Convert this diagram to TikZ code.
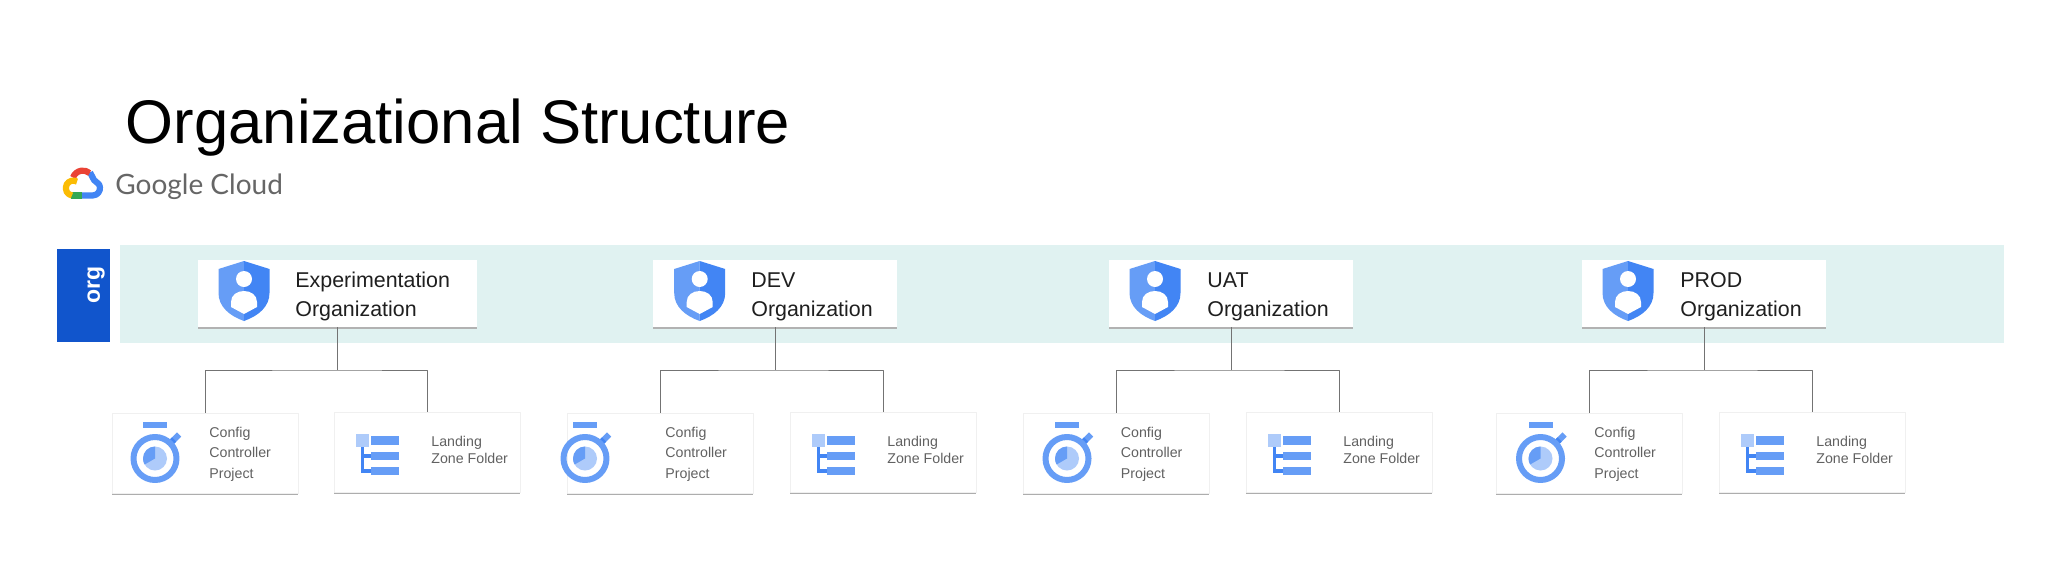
\documentclass[tikz,border=0pt]{standalone}
\usepackage{fontspec}
\setmainfont{Liberation Sans}
\newfontfamily\gcloudfont{Lato}
\usepackage{xcolor}
\usetikzlibrary{shadows}
\definecolor{bandcolor}{HTML}{E0F2F1}
\definecolor{orgblue}{HTML}{1155CC}
\definecolor{iconlight}{HTML}{AECBFA}
\definecolor{iconmid}{HTML}{669DF6}
\definecolor{icondark}{HTML}{4285F4}
\definecolor{gred}{HTML}{EA4335}
\definecolor{gyellow}{HTML}{FBBC04}
\definecolor{ggreen}{HTML}{34A853}
\definecolor{gblue}{HTML}{4285F4}
\tikzset{
  every picture/.style={line join=round},
  orgcard/.style={fill=white, inner sep=0pt, minimum height=33.5pt,
    drop shadow={shadow xshift=0pt, shadow yshift=-0.8pt, opacity=1, fill=black!30}},
  leafcard/.style={fill=white, draw=black!6, line width=0.4pt, inner sep=0pt,
    minimum width=93pt, minimum height=40pt,
    drop shadow={shadow xshift=0pt, shadow yshift=-0.9pt, opacity=1, fill=black!32}},
  orgtext/.style={anchor=base west, inner sep=0pt, align=left, text=black!88,
    font=\fontsize{10.7}{14.5}\selectfont},
  cfgtext/.style={anchor=base west, inner sep=0pt, align=left, text=black!62,
    font=\fontsize{7.1}{10.25}\selectfont},
  lndtext/.style={anchor=base west, inner sep=0pt, align=left, text=black!62,
    font=\fontsize{7.1}{8.5}\selectfont},
  link/.style={draw=black!55, line width=0.5pt},
  shieldicon/.pic={
    \fill[iconmid] (0,-30)--(-25.5,-22)--(-25.5,2) .. controls (-25.5,16) and (-14,25) .. (0,30)--cycle;
    \fill[icondark] (0,-30)--(25.5,-22)--(25.5,2) .. controls (25.5,16) and (14,25) .. (0,30)--cycle;
    \fill[white] (0,-12) circle[radius=8];
    \fill[white] (-13,11) .. controls (-13,4) and (-7,0) .. (0,0) .. controls (7,0) and (13,4) .. (13,11)
      --(13,16)--(0,23)--(-13,16)--cycle;
  },
  watchicon/.pic={
    \begin{scope}[yscale=-1]
    \fill[iconmid] (-12,30.5) rectangle (12,36.5);
    \fill[iconmid,rotate=-45] (24,-3) rectangle (34,3);
    \fill[icondark,rotate=-45] (24,-3) rectangle (27,3);
    \draw[iconmid,line width=3pt] (0,0) circle[radius=21.5];
    \fill[iconlight] (0,0) circle[radius=12];
    \fill[iconmid] (0,0)--(90:12) arc[start angle=90,end angle=210,radius=12]--cycle;
    \end{scope}
  },
  foldericon/.pic={
    \fill[icondark] (5,13) rectangle (8,38);
    \fill[icondark] (5,20) rectangle (15,24);
    \fill[icondark] (5,35) rectangle (15,39);
    \fill[iconlight] (0,0) rectangle (13,13);
    \fill[iconmid] (15,2) rectangle (43,11);
    \fill[iconmid] (15,18) rectangle (43,26);
    \fill[iconmid] (15,33) rectangle (43,41);
  },
  gcloudlogo/.pic={
    \begin{scope}[yscale=-1,line width=3.1pt]
    \draw[gblue] (8,10.7)--(12,3)--(17,-1.3) arc[start angle=30,end angle=-90,radius=7.5]--(0,-12.5);
    \draw[ggreen] (0,-12.5)--(-11,-12.5);
    \draw[gred] (-9,5.5) arc[start angle=160,end angle=50,radius=10.5];
    \draw[gyellow] (-5,1.4) arc[start angle=60,end angle=260,radius=7.5];
    \end{scope}
  },
}
\begin{document}
\begin{tikzpicture}[x=0.5pt,y=-0.5pt]
\path[fill=white,use as bounding box] (0,0) rectangle (2060,584);
\node[anchor=base west,inner sep=0pt,font=\fontsize{30.8}{36}\selectfont] (title) at (125.5,143) {Organizational Structure};
\pic at (82,183) {gcloudlogo};
\node[anchor=base west,inner sep=0pt,text=black!60,font=\gcloudfont\fontsize{14}{16}\selectfont] (gcloud) at (115,194) {Google Cloud};
% org band
\fill[bandcolor] (120,245) rectangle (2004,343);
\node[fill=orgblue,inner sep=0pt,minimum width=26.5pt,minimum height=46.5pt] (orgtag) at (83.5,295.5) {};
\node[rotate=90,inner sep=0pt,text=white,font=\bfseries\fontsize{11.5}{13}\selectfont] (orgtaglabel) at (96,285) {org};
% organizations
\node[orgcard,minimum width=139.5pt] (expOrg) at (337.5,293.5) {};
\node[orgcard,minimum width=122pt] (devOrg) at (775,293.5) {};
\node[orgcard,minimum width=122pt] (uatOrg) at (1231,293.5) {};
\node[orgcard,minimum width=122pt] (prodOrg) at (1704,293.5) {};
\pic at (244,291) {shieldicon};
\pic at (699.7,291) {shieldicon};
\pic at (1155,291) {shieldicon};
\pic at (1628,291) {shieldicon};
\node[orgtext] (expOrgText) at (295,316) {Experimentation\\Organization};
\node[orgtext] (devOrgText) at (751,316) {DEV\\Organization};
\node[orgtext] (uatOrgText) at (1207,316) {UAT\\Organization};
\node[orgtext] (prodOrgText) at (1680,316) {PROD\\Organization};
% projects and folders
\node[leafcard] (expCfg) at (205,453) {};
\node[leafcard] (expLnd) at (427,452) {};
\node[leafcard] (devCfg) at (660.3,453) {};
\node[leafcard] (devLnd) at (883,452) {};
\node[leafcard] (uatCfg) at (1116.3,453) {};
\node[leafcard] (uatLnd) at (1339,452) {};
\node[leafcard] (prodCfg) at (1589.3,453) {};
\node[leafcard] (prodLnd) at (1812,452) {};
\pic at (155,458.5) {watchicon};
\pic at (585,458.5) {watchicon};
\pic at (1067,458.5) {watchicon};
\pic at (1540.5,458.5) {watchicon};
\pic at (356,434) {foldericon};
\pic at (812,434) {foldericon};
\pic at (1268,434) {foldericon};
\pic at (1741,434) {foldericon};
\node[cfgtext] (expCfgText) at (209,478) {Config\\Controller\\Project};
\node[cfgtext] (devCfgText) at (665,478) {Config\\Controller\\Project};
\node[cfgtext] (uatCfgText) at (1120.5,478) {Config\\Controller\\Project};
\node[cfgtext] (prodCfgText) at (1594,478) {Config\\Controller\\Project};
\node[lndtext] (expLndText) at (431,463) {Landing\\Zone Folder};
\node[lndtext] (devLndText) at (887,463) {Landing\\Zone Folder};
\node[lndtext] (uatLndText) at (1343,463) {Landing\\Zone Folder};
\node[lndtext] (prodLndText) at (1816,463) {Landing\\Zone Folder};
% connectors
\coordinate (expBus) at (337.5,370);
\coordinate (devBus) at (775,370);
\coordinate (uatBus) at (1231,370);
\coordinate (prodBus) at (1704,370);
\draw[link] (expOrg.south)--(expBus);
\draw[link] (expCfg.north)|-(expBus)-|(expLnd.north);
\draw[link] (devOrg.south)--(devBus);
\draw[link] (devCfg.north)|-(devBus)-|(devLnd.north);
\draw[link] (uatOrg.south)--(uatBus);
\draw[link] (uatCfg.north)|-(uatBus)-|(uatLnd.north);
\draw[link] (prodOrg.south)--(prodBus);
\draw[link] (prodCfg.north)|-(prodBus)-|(prodLnd.north);
\end{tikzpicture}
\end{document}
